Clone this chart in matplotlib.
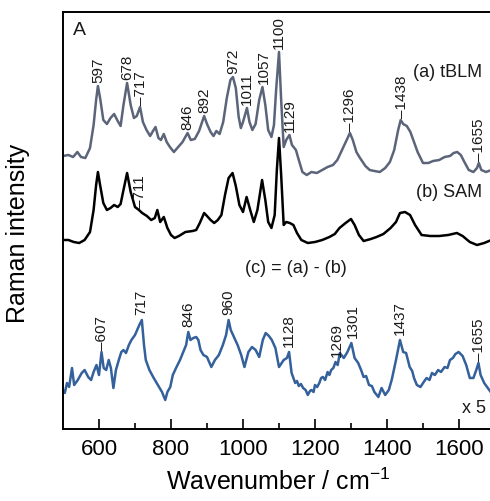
import numpy as np
import matplotlib
matplotlib.use("Agg")
import matplotlib.pyplot as plt

plt.rcParams["font.family"] = ["Liberation Sans", "DejaVu Sans"]
plt.rcParams["mathtext.default"] = "regular"

# ---- (a) tBLM spectrum ----
wn_a = [500, 515, 528, 540, 550, 562, 575, 585, 592, 597, 603, 612, 622, 632, 642, 652,
        660, 668, 678, 688, 697, 705, 714, 722, 732, 742, 750, 757, 765, 772, 780, 788,
        797, 808, 820, 832, 846, 855, 866, 878, 892, 900, 910, 918, 926, 935, 945, 955,
        965, 972, 980, 988, 994, 1000, 1011, 1018, 1026, 1035, 1045, 1054, 1062, 1070,
        1079, 1086, 1092, 1100, 1106, 1113, 1120, 1129, 1136, 1147, 1155, 1165, 1177,
        1190, 1205, 1220, 1235, 1250, 1262, 1275, 1288, 1297, 1305, 1315, 1325, 1340,
        1352, 1365, 1380, 1395, 1408, 1420, 1431, 1438, 1445, 1455, 1465, 1475, 1485,
        1500, 1515, 1528, 1545, 1560, 1575, 1585, 1595, 1605, 1615, 1627, 1640, 1650,
        1655, 1662, 1675, 1690, 1700]
int_a = [19, 20, 18, 23, 18, 17, 27, 50, 75, 89, 77, 55, 51, 57, 61, 54,
         49, 70, 92, 70, 57, 59, 68, 53, 45, 39, 44, 48, 37, 35, 41, 33,
         28, 23, 28, 33, 42, 35, 36, 44, 59, 51, 43, 39, 44, 41, 53, 77,
         95, 98, 87, 58, 47, 53, 67, 53, 45, 51, 75, 88, 70, 45,
         38, 50, 85, 123, 75, 28, 35, 40, 30, 25, 15, 3, 0,
         3, 2, 5, 8, 10, 15, 25, 35, 42, 35, 23, 17, 9,
         5, 4, 3, 7, 13, 25, 45, 55, 51, 49, 43, 33, 23,
         12, 12, 14, 15, 18, 19, 22, 23, 20, 13, 5, 3, 7,
         12, 5, 3, 5, 5]

# ---- (b) SAM spectrum ----
wn_b = [500, 515, 530, 545, 560, 575, 585, 592, 597, 603, 612, 622, 632, 642, 652, 660,
        668, 678, 688, 700, 711, 720, 733, 745, 755, 762, 770, 780, 790, 800, 810, 822,
        840, 860, 870, 880, 892, 900, 910, 920, 930, 940, 950, 960, 971, 980, 990, 1000,
        1010, 1020, 1030, 1040, 1053, 1062, 1070, 1079, 1088, 1094, 1100, 1106, 1113,
        1120, 1130, 1140, 1150, 1162, 1180, 1200, 1220, 1240, 1255, 1268, 1285, 1300,
        1310, 1322, 1335, 1355, 1371, 1390, 1410, 1425, 1436, 1450, 1464, 1478, 1496,
        1520, 1545, 1570, 1594, 1610, 1630, 1650, 1670, 1690, 1700]
int_b = [5, 5, 3, 2, 5, 13, 35, 60, 73, 60, 42, 35, 37, 40, 38, 41,
         55, 72, 53, 38, 35, 32, 29, 25, 27, 35, 23, 28, 17, 10, 7, 9,
         13, 14, 15, 22, 32, 29, 25, 22, 25, 30, 50, 67, 72, 59, 40, 33,
         48, 35, 23, 35, 65, 45, 23, 17, 30, 75, 107, 70, 20,
         23, 22, 20, 12, 5, 2, 3, 5, 8, 11, 17, 22, 26,
         20, 10, 4, 6, 8, 11, 17, 23, 32, 33, 30, 20, 10,
         9, 9, 10, 12, 9, 3, 0, 2, 5, 7]

# ---- (c) difference spectrum (a) - (b), shown x5 ----
wn_c = [500, 505, 511, 517, 525, 531, 541, 552, 560, 570, 578, 585, 593, 600, 607, 613,
        620, 627, 633, 640, 647, 655, 662, 668, 675, 683, 690, 700, 712, 719, 725, 730,
        740, 752, 765, 775, 784, 790, 798, 805, 814, 825, 834, 842, 848, 854, 862, 870,
        876, 882, 890, 900, 912, 922, 933, 944, 953, 960, 966, 975, 985, 995, 1004,
        1015, 1025, 1035, 1045, 1055, 1063, 1072, 1080, 1090, 1100, 1113, 1122, 1128,
        1135, 1145, 1150, 1155, 1161, 1167, 1174, 1180, 1186, 1190, 1196, 1200, 1206,
        1212, 1217, 1222, 1228, 1235, 1240, 1245, 1251, 1257, 1263, 1269,
        1280, 1290, 1301, 1310, 1320, 1328, 1335, 1342, 1350, 1358, 1365, 1376, 1385,
        1395, 1405, 1413, 1425, 1436, 1445, 1453, 1463, 1470, 1475, 1483, 1493, 1502,
        1510, 1518, 1525, 1533, 1542, 1550, 1560, 1568, 1575, 1583, 1590, 1599, 1610,
        1620, 1630, 1640, 1648, 1654, 1660, 1670, 1680, 1690, 1700]
int_c = [2.0, 1.4, 3.4, 2.6, 6.4, 3.0, 4.0, 5.4, 6.0, 4.6, 4.0, 5.6, 7.0, 5.0, 9.6, 6.4,
         6.0, 8.0, 6.4, 2.4, 6.0, 8.0, 9.6, 10.0, 9.4, 11.0, 12.0, 13.0, 15.0, 16.0, 11.0, 8.0,
         6.0, 4.4, 2.8, 1.6, 0.0, 1.6, 2.6, 5.0, 6.4, 8.0, 9.6, 11.0, 13.6, 12.0, 12.4, 12.6,
         12.0, 10.0, 9.0, 8.6, 6.6, 8.0, 9.0, 11.0, 13.0, 16.0, 14.0, 12.6, 11.0, 9.0, 6.6,
         9.6, 10.6, 10.0, 8.6, 12.0, 13.4, 12.8, 12.0, 10.4, 6.6, 8.0, 8.4, 9.6,
         5.4, 3.4, 3.8, 2.8, 3.2, 2.4, 2.0, 1.0, 1.8, 2.0, 1.6, 3.0, 2.6,
         3.4, 4.4, 4.6, 4.0, 5.6, 5.0, 6.0, 6.4, 7.6, 7.0, 9.4,
         8.4, 9.6, 11.4, 8.4, 7.4, 6.0, 4.6, 4.8, 3.0, 2.8, 1.6, 0.6, 2.4,
         1.0, 2.0, 4.0, 8.0, 12.0, 9.6, 9.4, 6.6, 5.8, 4.4, 3.0, 2.6, 3.6,
         4.4, 4.0, 5.4, 5.0, 6.0, 5.6, 6.6, 6.4, 8.0, 8.4, 9.2, 9.6, 8.8,
         7.0, 4.4, 4.4, 6.0, 7.4, 5.0, 3.4, 2.4, 1.4, 0.4]

# Peak assignments: (text, label position in cm-1)
peaks_a = [("597", 597), ("678", 678), ("\u2013717", 717), ("846", 846), ("892", 892),
           ("972", 972), ("1011", 1011), ("1057", 1057), ("1100", 1100), ("1129", 1131),
           ("\u20131296", 1296), ("\u20131438", 1442), ("\u20131655", 1655)]
peaks_b = [("\u2013711", 715)]
peaks_c = [("\u2013607", 607), ("717", 717), ("846", 848), ("960", 960), ("1128", 1128),
           ("1269", 1262), ("1301", 1306), ("1437", 1437), ("\u20131655", 1655)]

col_a = "#5b6479"
col_b = "#000000"
col_c = "#34609b"

off_a, off_b, off_c, scale_c = 254, 184, 29, 5

fig = plt.figure(figsize=(4.9, 5.01), dpi=100)
ax = fig.add_axes([63 / 490, 1 - 429 / 501, 432 / 490, 417 / 501])

ya = np.array(int_a) + off_a
yb = np.array(int_b) + off_b
yc = np.array(int_c) * scale_c + off_c
ax.plot(wn_a, ya, color=col_a, lw=1.8)
ax.plot(wn_b, yb, color=col_b, lw=1.8)
ax.plot(wn_c, yc, color=col_c, lw=1.8)


def annotate(wn, y, peaks, gap):
    wn = np.asarray(wn)
    for txt, w in peaks:
        sel = np.abs(wn - w) <= 6
        top = y[sel].max() if sel.any() else np.interp(w, wn, y)
        g = 1.5 if txt.startswith("\u2013") else gap
        ax.annotate(txt, (w, top), xytext=(0, g), textcoords="offset points",
                    rotation=90, ha="center", va="bottom", fontsize=11, color="#1a1a1a")


annotate(wn_a, ya, peaks_a, 2.5)
annotate(wn_b, yb, peaks_b, 2.5)
annotate(wn_c, yc, peaks_c, 3.5)

ax.text(0.97, 0.855, "(a) tBLM", transform=ax.transAxes, ha="right", va="center",
        fontsize=13, color="#1a1a1a")
ax.text(0.97, 0.567, "(b) SAM", transform=ax.transAxes, ha="right", va="center",
        fontsize=13, color="#1a1a1a")
ax.text(0.54, 0.385, "(c) = (a) - (b)", transform=ax.transAxes, ha="center", va="center",
        fontsize=13, color="#1a1a1a")
ax.text(0.98, 0.05, "x 5", transform=ax.transAxes, ha="right", va="center",
        fontsize=13, color="#1a1a1a")
ax.text(0.022, 0.955, "A", transform=ax.transAxes, ha="left", va="center",
        fontsize=14, color="#1a1a1a")

ax.set_xlim(500, 1700)
ax.set_ylim(0, 417)
ax.set_xticks(np.arange(600, 1601, 200))
ax.set_xticks(np.arange(700, 1701, 200), minor=True)
ax.set_yticks([])
ax.tick_params(axis="x", which="major", direction="in", length=7, width=1.2,
               labelsize=16, pad=7)
ax.tick_params(axis="x", which="minor", direction="in", length=4, width=1.2)
for s in ax.spines.values():
    s.set_linewidth(1.4)

ax.set_xlabel("Wavenumber / cm$^{-1}$", fontsize=18)
ax.set_ylabel("Raman intensity", fontsize=18)
ax.xaxis.set_label_coords((278 - 63) / 432, -0.095)
ax.yaxis.set_label_coords(-(63 - 30) / 432, 0.47)

fig.savefig("out.png", dpi=100)
